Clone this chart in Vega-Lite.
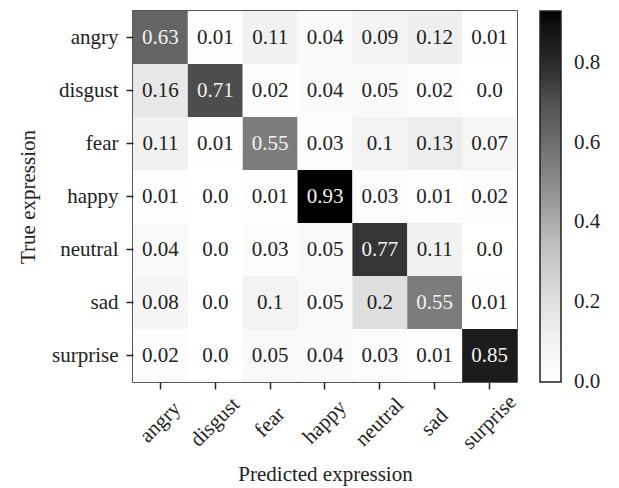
{
  "$schema": "https://vega.github.io/schema/vega-lite/v6.json",
  "width": 384,
  "height": 371,
  "autosize": "none",
  "padding": {"left": 133, "top": 11, "right": 102, "bottom": 106},
  "background": "white",
  "config": {
    "font": "Liberation Serif",
    "view": {"stroke": "#222222", "strokeWidth": 1.5},
    "axis": {"labelFont": "Liberation Serif", "titleFont": "Liberation Serif", "labelFontSize": 21, "titleFontSize": 21, "titleFontWeight": "normal", "labelColor": "#222222", "titleColor": "#222222", "tickColor": "#222222", "tickSize": 7, "tickWidth": 1.5, "domain": false, "grid": false}
  },
  "data": {"values": [
    {"actual": "angry", "predicted": "angry", "value": 0.63, "label": "0.63"},
    {"actual": "angry", "predicted": "disgust", "value": 0.01, "label": "0.01"},
    {"actual": "angry", "predicted": "fear", "value": 0.11, "label": "0.11"},
    {"actual": "angry", "predicted": "happy", "value": 0.04, "label": "0.04"},
    {"actual": "angry", "predicted": "neutral", "value": 0.09, "label": "0.09"},
    {"actual": "angry", "predicted": "sad", "value": 0.12, "label": "0.12"},
    {"actual": "angry", "predicted": "surprise", "value": 0.01, "label": "0.01"},
    {"actual": "disgust", "predicted": "angry", "value": 0.16, "label": "0.16"},
    {"actual": "disgust", "predicted": "disgust", "value": 0.71, "label": "0.71"},
    {"actual": "disgust", "predicted": "fear", "value": 0.02, "label": "0.02"},
    {"actual": "disgust", "predicted": "happy", "value": 0.04, "label": "0.04"},
    {"actual": "disgust", "predicted": "neutral", "value": 0.05, "label": "0.05"},
    {"actual": "disgust", "predicted": "sad", "value": 0.02, "label": "0.02"},
    {"actual": "disgust", "predicted": "surprise", "value": 0.0, "label": "0.0"},
    {"actual": "fear", "predicted": "angry", "value": 0.11, "label": "0.11"},
    {"actual": "fear", "predicted": "disgust", "value": 0.01, "label": "0.01"},
    {"actual": "fear", "predicted": "fear", "value": 0.55, "label": "0.55"},
    {"actual": "fear", "predicted": "happy", "value": 0.03, "label": "0.03"},
    {"actual": "fear", "predicted": "neutral", "value": 0.1, "label": "0.1"},
    {"actual": "fear", "predicted": "sad", "value": 0.13, "label": "0.13"},
    {"actual": "fear", "predicted": "surprise", "value": 0.07, "label": "0.07"},
    {"actual": "happy", "predicted": "angry", "value": 0.01, "label": "0.01"},
    {"actual": "happy", "predicted": "disgust", "value": 0.0, "label": "0.0"},
    {"actual": "happy", "predicted": "fear", "value": 0.01, "label": "0.01"},
    {"actual": "happy", "predicted": "happy", "value": 0.93, "label": "0.93"},
    {"actual": "happy", "predicted": "neutral", "value": 0.03, "label": "0.03"},
    {"actual": "happy", "predicted": "sad", "value": 0.01, "label": "0.01"},
    {"actual": "happy", "predicted": "surprise", "value": 0.02, "label": "0.02"},
    {"actual": "neutral", "predicted": "angry", "value": 0.04, "label": "0.04"},
    {"actual": "neutral", "predicted": "disgust", "value": 0.0, "label": "0.0"},
    {"actual": "neutral", "predicted": "fear", "value": 0.03, "label": "0.03"},
    {"actual": "neutral", "predicted": "happy", "value": 0.05, "label": "0.05"},
    {"actual": "neutral", "predicted": "neutral", "value": 0.77, "label": "0.77"},
    {"actual": "neutral", "predicted": "sad", "value": 0.11, "label": "0.11"},
    {"actual": "neutral", "predicted": "surprise", "value": 0.0, "label": "0.0"},
    {"actual": "sad", "predicted": "angry", "value": 0.08, "label": "0.08"},
    {"actual": "sad", "predicted": "disgust", "value": 0.0, "label": "0.0"},
    {"actual": "sad", "predicted": "fear", "value": 0.1, "label": "0.1"},
    {"actual": "sad", "predicted": "happy", "value": 0.05, "label": "0.05"},
    {"actual": "sad", "predicted": "neutral", "value": 0.2, "label": "0.2"},
    {"actual": "sad", "predicted": "sad", "value": 0.55, "label": "0.55"},
    {"actual": "sad", "predicted": "surprise", "value": 0.01, "label": "0.01"},
    {"actual": "surprise", "predicted": "angry", "value": 0.02, "label": "0.02"},
    {"actual": "surprise", "predicted": "disgust", "value": 0.0, "label": "0.0"},
    {"actual": "surprise", "predicted": "fear", "value": 0.05, "label": "0.05"},
    {"actual": "surprise", "predicted": "happy", "value": 0.04, "label": "0.04"},
    {"actual": "surprise", "predicted": "neutral", "value": 0.03, "label": "0.03"},
    {"actual": "surprise", "predicted": "sad", "value": 0.01, "label": "0.01"},
    {"actual": "surprise", "predicted": "surprise", "value": 0.85, "label": "0.85"}
  ]},
  "encoding": {
    "x": {"field": "predicted", "type": "nominal", "sort": ["angry", "disgust", "fear", "happy", "neutral", "sad", "surprise"],
      "scale": {"paddingInner": 0, "paddingOuter": 0},
      "axis": {"title": "Predicted expression", "labelAngle": -45, "labelAlign": "center", "labelBaseline": "middle", "labelPadding": 33, "titlePadding": 11}},
    "y": {"field": "actual", "type": "nominal", "sort": ["angry", "disgust", "fear", "happy", "neutral", "sad", "surprise"],
      "scale": {"paddingInner": 0, "paddingOuter": 0},
      "axis": {"title": "True expression", "labelPadding": 8, "titlePadding": 13}}
  },
  "layer": [
    {"mark": {"type": "rect"},
     "encoding": {"color": {"field": "value", "type": "quantitative",
        "scale": {"domain": [0, 0.11625, 0.2325, 0.34875, 0.465, 0.58125, 0.6975, 0.81375, 0.93],
                  "range": ["#ffffff", "#f0f0f0", "#d9d9d9", "#bdbdbd", "#969696", "#737373", "#525252", "#252525", "#000000"]},
        "legend": {"title": null, "orient": "right", "offset": 23, "padding": 0, "gradientLength": 371, "gradientThickness": 21,
          "gradientStrokeColor": "#222222", "gradientStrokeWidth": 1.5, "values": [0, 0.2, 0.4, 0.6, 0.8], "format": ".1f",
          "labelFont": "Liberation Serif", "labelFontSize": 21, "labelColor": "#222222", "labelOffset": 13, "labelBaseline": "middle",
          "labelOverlap": false,
          "encode": {"labels": {"update": {"baseline": {"value": "middle"}}}}}}}},
    {"mark": {"type": "text", "font": "Liberation Serif", "fontSize": 21},
     "encoding": {"text": {"field": "label", "type": "nominal"},
       "color": {"condition": {"test": "datum.value > 0.5", "value": "#f2f2f2"}, "value": "#222222"}}}
  ]
}
